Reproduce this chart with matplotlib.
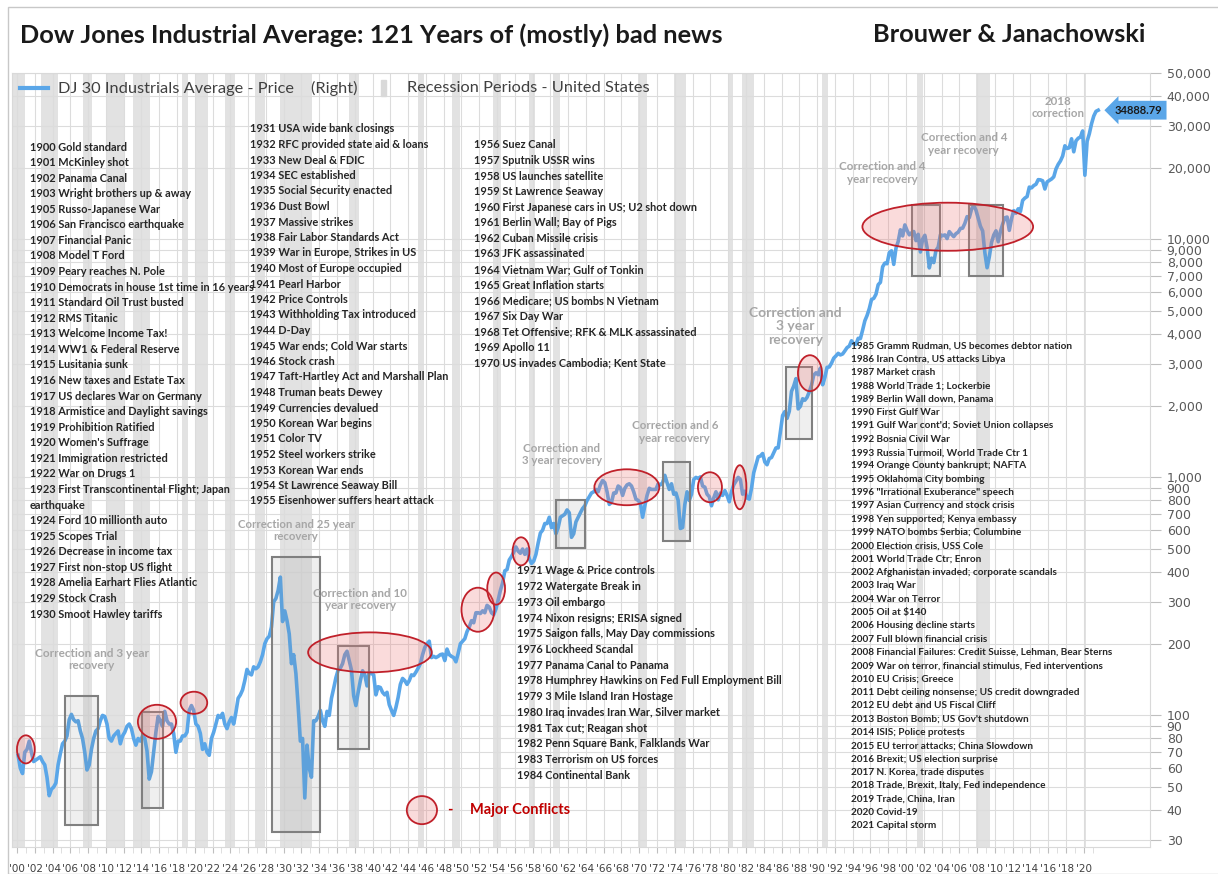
import numpy as np
import matplotlib
matplotlib.use("Agg")
import matplotlib.pyplot as plt
from matplotlib.patches import Rectangle, Ellipse
from matplotlib.lines import Line2D
from matplotlib.ticker import FixedLocator, FixedFormatter

plt.rcParams['font.family'] = ['Lato', 'DejaVu Sans']

W, H = 1218, 874

# DJIA, quarterly readings
dow_1900s = [68, 60, 57, 70, 72, 78, 70, 64, 65, 66, 67, 64, 62, 55, 46, 49, 50, 52, 62, 69,
             76, 78, 82, 96, 101, 96, 94, 95, 86, 80, 70, 59, 62, 72, 80, 86, 88, 95, 100, 99]
dow_1910s = [92, 80, 78, 82, 84, 86, 76, 82, 85, 90, 92, 88, 80, 75, 80, 78, 82, 80, 71, 54,
             58, 70, 85, 99, 95, 90, 104, 95, 92, 92, 84, 70, 78, 78, 82, 82, 85, 105, 110, 105]
dow_1920s = [92, 90, 84, 72, 76, 70, 68, 80, 85, 92, 100, 98, 102, 92, 88, 94, 98, 92, 103, 118,
             122, 128, 140, 156, 150, 148, 160, 157, 160, 168, 180, 200, 210, 215, 235, 300, 310, 335, 381, 248]
dow_1930s = [275, 250, 220, 165, 180, 150, 110, 78, 80, 45, 75, 60, 55, 95, 95, 99, 105, 95, 90, 104,
             100, 118, 130, 144, 155, 158, 165, 180, 186, 170, 155, 121, 110, 125, 140, 154, 148, 133, 152, 150]
dow_1940s = [148, 122, 132, 131, 125, 122, 125, 111, 105, 100, 108, 119, 135, 143, 140, 135, 140, 148, 147, 152,
             158, 165, 180, 193, 200, 205, 175, 177, 175, 177, 180, 181, 170, 190, 180, 177, 175, 168, 182, 200]
dow_1950s = [205, 210, 225, 235, 250, 245, 270, 270, 268, 275, 270, 290, 285, 270, 265, 280, 305, 335, 360, 405,
             410, 450, 465, 485, 510, 490, 480, 500, 475, 500, 455, 435, 445, 475, 530, 584, 600, 640, 640, 680]
dow_1960s = [615, 640, 580, 615, 680, 690, 700, 730, 710, 560, 580, 650, 680, 710, 740, 760, 800, 830, 860, 870,
             890, 870, 930, 970, 950, 870, 770, 785, 860, 860, 920, 905, 840, 900, 930, 940, 920, 870, 810, 800]
dow_1970s = [780, 680, 760, 840, 900, 890, 890, 890, 940, 930, 950, 1020, 950, 890, 940, 850, 860, 800, 610, 616,
             770, 870, 800, 850, 980, 1000, 990, 1005, 920, 910, 850, 830, 760, 820, 870, 805, 860, 840, 880, 840]
dow_1980s = [790, 870, 930, 965, 1000, 980, 850, 875, 820, 810, 900, 1046, 1130, 1220, 1230, 1260, 1160, 1130, 1200, 1212,
             1270, 1330, 1330, 1550, 1820, 1890, 1770, 1896, 2300, 2420, 2600, 1940, 1990, 2140, 2110, 2170, 2290, 2440, 2690, 2750]
dow_1990s = [2700, 2880, 2450, 2630, 2900, 2910, 3020, 3170, 3240, 3320, 3270, 3300, 3400, 3510, 3560, 3750,
             3640, 3620, 3840, 3830, 4160, 4550, 4790, 5120, 5590, 5650, 5880, 6450, 6600, 7670, 7950, 7900,
             8800, 8950, 7850, 9180, 9800, 10970, 10340, 11500]
dow_2000s = [10900, 10450, 10650, 10790, 9880, 10500, 8850, 10020, 10400, 9240, 7590, 8340, 7990, 8990, 9280, 10450,
             10360, 10440, 10080, 10780, 10500, 10270, 10570, 10720, 11110, 11150, 11680, 12460, 12350, 13400, 13900, 13260,
             12260, 11350, 10850, 8780, 7600, 8450, 9710, 10430]
dow_2010s = [10860, 9770, 10790, 11580, 12320, 12410, 10910, 12220, 13210, 12880, 13440, 13100, 14580, 14910, 15130, 16580,
             16460, 16830, 17040, 17820, 17780, 17620, 16280, 17430, 17690, 17930, 18310, 19760, 20660, 21350, 22400, 24720,
             24100, 24270, 26460, 23330, 25930, 26600, 26920, 28540]
dow_2020s = [18600, 25810, 27780, 30610, 32980, 34500, 34888.79]

# NBER recession periods (decimal years)
rec_start = [1899.45, 1902.7, 1907.4, 1910.0, 1913.0, 1918.6, 1920.0, 1923.4, 1926.8, 1929.6, 1937.4, 1945.1,
             1948.9, 1953.5, 1957.6, 1960.3, 1969.9, 1973.9, 1980.0, 1981.5, 1990.5, 2001.2, 2007.9, 2020.1]
rec_end = [1900.95, 1904.6, 1908.45, 1912.0, 1914.95, 1919.2, 1921.5, 1924.5, 1927.9, 1933.2, 1938.45, 1945.8,
           1949.8, 1954.4, 1958.3, 1961.1, 1970.9, 1975.2, 1980.55, 1982.9, 1991.2, 2001.9, 2009.5, 2020.3]

# correction boxes
box_x0 = [1905.4, 1914.1, 1928.7, 1936.1, 1960.6, 1972.7, 1986.5, 2000.7, 2007.1]
box_x1 = [1909.1, 1916.4, 1934.1, 1939.6, 1963.9, 1975.7, 1989.4, 2003.8, 2010.9]
box_lo = [34.7, 41, 32.4, 72, 507, 543, 1449, 7000, 7000]
box_hi = [121, 103, 465, 196, 806, 1158, 2907, 14000, 14000]

# conflict ellipses: centre year, centre value, width (years), height (decades)
ell_year = [1901.0, 1915.75, 1919.9, 1939.7, 1951.85, 1953.9, 1956.7, 1968.6, 1977.95, 1981.3, 1989.2, 2004.7, 1945.55]
ell_value = [72, 94, 113, 184, 278, 341, 489, 909, 909, 909, 2740, 11300, 40]
ell_w = [2.0, 4.3, 3.0, 13.9, 3.7, 2.0, 1.9, 7.3, 2.7, 1.5, 2.7, 19.2, 3.4]
ell_h = [0.118, 0.143, 0.093, 0.168, 0.185, 0.135, 0.118, 0.151, 0.126, 0.185, 0.151, 0.202, 0.118]

# grey "correction" notes
note_year = [1908.4, 1931.4, 1938.6, 1961.3, 1974.0, 1987.6, 1997.3, 2006.5, 2017.1]
note_value = [172, 598, 307, 1251, 1550, 4320, 19000, 25200, 35900]
note_text = ["Correction and 3 year\nrecovery", "Correction and 25 year\nrecovery", "Correction and 10\nyear recovery",
             "Correction and\n3 year recovery", "Correction and 6\nyear recovery", "Correction and\n3 year\nrecovery",
             "Correction and 4\nyear recovery", "Correction and 4\nyear recovery", "2018\ncorrection"]
note_size = [8.5, 8.2, 8.4, 8.3, 8.3, 10, 8.3, 8.3, 8.3]

events_1 = ["1900 Gold standard", "1901 McKinley shot", "1902 Panama Canal", "1903 Wright brothers up & away",
            "1905 Russo-Japanese War", "1906 San Francisco earthquake", "1907 Financial Panic", "1908 Model T Ford",
            "1909 Peary reaches N. Pole", "1910 Democrats in house 1st time in 16 years", "1911 Standard Oil Trust busted",
            "1912 RMS Titanic", "1913 Welcome Income Tax!", "1914 WW1 & Federal Reserve", "1915 Lusitania sunk",
            "1916 New taxes and Estate Tax", "1917 US declares War on Germany", "1918 Armistice and Daylight savings",
            "1919 Prohibition Ratified", "1920 Women's Suffrage", "1921 Immigration restricted", "1922 War on Drugs 1",
            "1923 First Transcontinental Flight; Japan", "earthquake", "1924 Ford 10 millionth auto", "1925 Scopes Trial",
            "1926 Decrease in income tax", "1927 First non-stop US flight", "1928 Amelia Earhart Flies Atlantic",
            "1929 Stock Crash", "1930 Smoot Hawley tariffs"]
events_2 = ["1931 USA wide bank closings", "1932 RFC provided state aid & loans", "1933 New Deal & FDIC",
            "1934 SEC established", "1935 Social Security enacted", "1936 Dust Bowl", "1937 Massive strikes",
            "1938 Fair Labor Standards Act", "1939 War in Europe, Strikes in US", "1940 Most of Europe occupied",
            "1941 Pearl Harbor", "1942 Price Controls", "1943 Withholding Tax introduced", "1944 D-Day",
            "1945 War ends; Cold War starts", "1946 Stock crash", "1947 Taft-Hartley Act and Marshall Plan",
            "1948 Truman beats Dewey", "1949 Currencies devalued", "1950 Korean War begins", "1951 Color TV",
            "1952 Steel workers strike", "1953 Korean War ends", "1954 St Lawrence Seaway Bill",
            "1955 Eisenhower suffers heart attack"]
events_3 = ["1956 Suez Canal", "1957 Sputnik USSR wins", "1958 US launches satellite", "1959 St Lawrence Seaway",
            "1960 First Japanese cars in US; U2 shot down", "1961 Berlin Wall; Bay of Pigs", "1962 Cuban Missile crisis",
            "1963 JFK assassinated", "1964 Vietnam War; Gulf of Tonkin", "1965 Great Inflation starts",
            "1966 Medicare; US bombs N Vietnam", "1967 Six Day War", "1968 Tet Offensive; RFK & MLK assassinated",
            "1969 Apollo 11", "1970 US invades Cambodia; Kent State"]
events_4 = ["1971 Wage & Price controls", "1972 Watergate Break in", "1973 Oil embargo", "1974 Nixon resigns; ERISA signed",
            "1975 Saigon falls, May Day commissions", "1976 Lockheed Scandal", "1977 Panama Canal to Panama",
            "1978 Humphrey Hawkins on Fed Full Employment Bill", "1979 3 Mile Island Iran Hostage",
            "1980 Iraq invades Iran War, Silver market", "1981 Tax cut; Reagan shot", "1982 Penn Square Bank, Falklands War",
            "1983 Terrorism on US forces", "1984 Continental Bank"]
events_5 = ["1985 Gramm Rudman, US becomes debtor nation", "1986 Iran Contra, US attacks Libya", "1987 Market crash",
            "1988 World Trade 1; Lockerbie", "1989 Berlin Wall down, Panama", "1990 First Gulf War",
            "1991 Gulf War cont'd; Soviet Union collapses", "1992 Bosnia Civil War", "1993 Russia Turmoil, World Trade Ctr 1",
            "1994 Orange County bankrupt; NAFTA", "1995 Oklahoma City bombing", "1996 \"Irrational Exuberance\" speech",
            "1997 Asian Currency and stock crisis", "1998 Yen supported; Kenya embassy", "1999 NATO bombs Serbia; Columbine",
            "2000 Election crisis, USS Cole", "2001 World Trade Ctr; Enron", "2002 Afghanistan invaded; corporate scandals",
            "2003 Iraq War", "2004 War on Terror", "2005 Oil at $140", "2006 Housing decline starts",
            "2007 Full blown financial crisis", "2008 Financial Failures: Credit Suisse, Lehman, Bear Sterns",
            "2009 War on terror, financial stimulus, Fed interventions", "2010 EU Crisis; Greece",
            "2011 Debt ceiling nonsense; US credit downgraded", "2012 EU debt and US Fiscal Cliff",
            "2013 Boston Bomb; US Gov't shutdown", "2014 ISIS; Police protests", "2015 EU terror attacks; China Slowdown",
            "2016 Brexit; US election surprise", "2017 N. Korea, trade disputes", "2018 Trade, Brexit, Italy, Fed independence",
            "2019 Trade, China, Iran", "2020 Covid-19", "2021 Capital storm"]

y_ticks = [30, 40, 50, 60, 70, 80, 90, 100, 200, 300, 400, 500, 600, 700, 800, 900, 1000, 2000, 3000, 4000, 5000,
           6000, 7000, 8000, 9000, 10000, 20000, 30000, 40000, 50000]
x_ticks = list(range(1900, 2021, 2))

dow = np.array(dow_1900s + dow_1910s + dow_1920s + dow_1930s + dow_1940s + dow_1950s + dow_1960s
               + dow_1970s + dow_1980s + dow_1990s + dow_2000s + dow_2010s + dow_2020s, dtype=float)
t = 1900 + np.arange(len(dow)) / 4 + 0.125

fig = plt.figure(figsize=(W / 100, H / 100), dpi=100)
ax = fig.add_axes([12 / W, 1 - 847 / H, (1150 - 12) / W, (847 - 73) / H])
x0, x1 = 1899.44, 2027.45
y0, y1 = 28, 50000
ax.set_xlim(x0, x1)
ax.set_yscale('log')
ax.set_ylim(y0, y1)

for s, e in zip(rec_start, rec_end):
    ax.axvspan(s, e, color='#e2e2e2', lw=0, zorder=0.5)

ax.yaxis.tick_right()
ax.yaxis.set_major_locator(FixedLocator(y_ticks))
ax.yaxis.set_major_formatter(FixedFormatter([f"{v:,}" for v in y_ticks]))
ax.yaxis.set_minor_locator(FixedLocator([]))
ax.tick_params(axis='y', labelsize=9, labelcolor='#595959', color='#bfbfbf', length=8, width=0.8, pad=4)
for lab in ax.get_yticklabels():
    lab.set_family('DejaVu Sans')
ax.set_xticks(x_ticks)
ax.set_xticklabels(["'%02d" % (y % 100) for y in x_ticks], family=['Liberation Sans Narrow', 'DejaVu Sans'])
ax.set_xticks(range(1900, 2022), minor=True)
ax.tick_params(axis='x', labelsize=7.5, labelcolor='#404040', color='#bfbfbf', length=4, pad=8)
ax.tick_params(axis='x', which='minor', color='#d9d9d9', length=4)
ax.grid(True, color='#dcdcdc', lw=0.8, zorder=0)
ax.set_axisbelow(True)
for sp in ax.spines.values():
    sp.set_color('#d9d9d9')

ax.plot(t, dow, color='#5aa6e8', lw=2.6, zorder=3, solid_joinstyle='round')

for a, b, lo, hi in zip(box_x0, box_x1, box_lo, box_hi):
    ax.add_patch(Rectangle((a, lo), b - a, hi - lo, fc=(0.5, 0.5, 0.5, 0.12), ec='#808080', lw=1.5, zorder=4))

ldec = np.log10(y1) - np.log10(y0)
for yr, v, w, h in zip(ell_year, ell_value, ell_w, ell_h):
    cx = (yr - x0) / (x1 - x0)
    cy = (np.log10(v) - np.log10(y0)) / ldec
    ax.add_patch(Ellipse((cx, cy), w / (x1 - x0), h / ldec, transform=ax.transAxes,
                         fc=(0.93, 0.45, 0.45, 0.25), ec='#c0202a', lw=1.3, zorder=5))

for yr, v, txt, fs in zip(note_year, note_value, note_text, note_size):
    ax.text(yr, v, txt, ha='center', va='center', color='#a6a6a6', fontsize=fs, fontweight='bold',
            linespacing=1.15, zorder=6)

ax.text(1948.4, 40, "-", color='#c00000', fontsize=10.5, fontweight='bold', va='center', zorder=6)
ax.text(1951.0, 40, "Major Conflicts", color='#c00000', fontsize=10.5, fontweight='bold', va='center', zorder=6)

ax.annotate(f"{dow[-1]:.2f}", (t[-1], dow[-1]), xytext=(12, 0), textcoords='offset points',
            ha='left', va='center', fontsize=8, fontweight='bold', color='#1a1a1a', zorder=7,
            bbox=dict(boxstyle='larrow,pad=0.35', fc='#5aa6e8', ec='none'), annotation_clip=False)


def px(x, y):
    return x / W, 1 - y / H


def column(lines, x, y_first, step, fs):
    for i, s in enumerate(lines):
        fig.text(*px(x, y_first + i * step), s, fontsize=fs, fontweight='bold', color='#262626',
                 va='center', ha='left', zorder=8)


column(events_1, 30, 147, 15.57, 7.9)
column(events_2, 250, 129, 15.5, 7.9)
column(events_3, 474, 145, 15.57, 7.9)
column(events_4, 517, 571, 15.7, 7.9)
column(events_5, 851, 346, 13.33, 7.2)

# legend
fig.add_artist(Line2D([20 / W, 48 / W], [1 - 88 / H] * 2, color='#5aa6e8', lw=3))
fig.text(*px(58, 88), "DJ 30 Industrials Average - Price    (Right)", fontsize=11.8, color='#404040', va='center')
fig.add_artist(Rectangle(px(381, 96), 5 / W, 16 / H, color='#d9d9d9', transform=fig.transFigure))
fig.text(*px(407, 88), "Recession Periods - United States", fontsize=11.8, color='#404040', va='center')

# titles
fig.text(*px(20, 35), "Dow Jones Industrial Average: 121 Years of (mostly) bad news", fontsize=18.3,
         fontweight='bold', color='#1a1a1a', va='center')
fig.text(*px(1145, 35), "Brouwer & Janachowski", fontsize=18.3, fontweight='bold', color='#1a1a1a',
         va='center', ha='right')
fig.add_artist(Rectangle((8 / W, 0), 1.2, 1 - 7 / H, fill=False, ec='#c8c8c8', lw=1, transform=fig.transFigure))

fig.savefig("out.png", dpi=100)
